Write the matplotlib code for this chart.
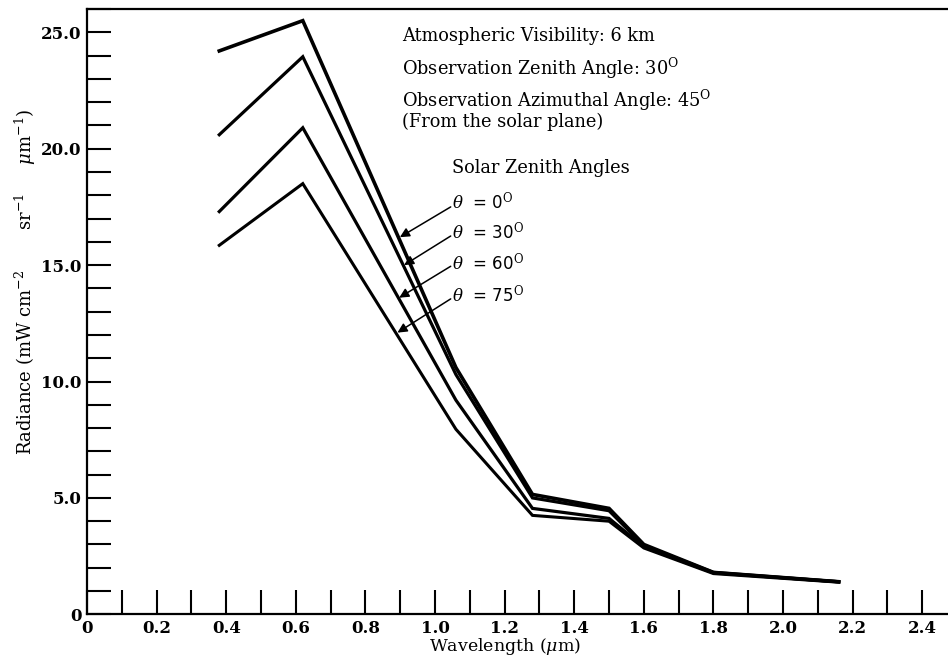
import matplotlib
matplotlib.use("Agg")
import matplotlib.pyplot as plt
from matplotlib.ticker import MultipleLocator, FixedLocator

plt.rcParams['font.family'] = ['DejaVu Serif']
plt.rcParams['mathtext.fontset'] = 'dejavuserif'

# Data
wavelength = [0.38, 0.62, 1.06, 1.28, 1.50, 1.60, 1.80, 2.16]
rad_0 = [24.2, 25.5, 10.6, 5.15, 4.55, 3.00, 1.80, 1.40]
rad_30 = [20.6, 23.95, 10.3, 5.00, 4.45, 2.95, 1.80, 1.40]
rad_60 = [17.3, 20.9, 9.2, 4.55, 4.12, 2.90, 1.78, 1.40]
rad_75 = [15.85, 18.5, 7.95, 4.25, 4.00, 2.85, 1.75, 1.38]
series = [rad_0, rad_30, rad_60, rad_75]
angle_labels = ["0", "30", "60", "75"]
arrow_tips = [(0.899, 16.2), (0.911, 15.0), (0.897, 13.6), (0.892, 12.1)]
arrow_tails = [(1.045, 17.5), (1.045, 16.25), (1.045, 14.95), (1.045, 13.55)]

x_major = [0, 0.2, 0.4, 0.6, 0.8, 1.0, 1.2, 1.4, 1.6, 1.8, 2.0, 2.2, 2.4]
x_labels = ["0", "0.2", "0.4", "0.6", "0.8", "1.0", "1.2", "1.4", "1.6", "1.8", "2.0", "2.2", "2.4"]
y_major = [0, 5, 10, 15, 20, 25]
y_labels = ["0", "5.0", "10.0", "15.0", "20.0", "25.0"]

fig = plt.figure(figsize=(9.48, 6.59), dpi=100)
ax = fig.add_axes([0.0918, 0.0678, 0.9082, 0.9185])

lws = [2.6, 2.3, 2.3, 2.2]
for s, lw in zip(series, lws):
    ax.plot(wavelength, s, color='black', lw=lw, solid_joinstyle='miter')

ax.set_xlim(0, 2.474)
ax.set_ylim(0, 26)

ax.spines['right'].set_visible(False)
for sp in ['left', 'bottom', 'top']:
    ax.spines[sp].set_linewidth(1.6)

ax.xaxis.set_major_locator(FixedLocator(x_major))
ax.set_xticklabels(x_labels)
ax.xaxis.set_minor_locator(MultipleLocator(0.1))
ax.yaxis.set_major_locator(FixedLocator(y_major))
ax.set_yticklabels(y_labels)
ax.yaxis.set_minor_locator(MultipleLocator(1))

ax.tick_params(which='both', direction='in', length=17, width=1.5, top=False, right=False)
ax.tick_params(axis='both', labelsize=12, pad=4)
for lab in ax.get_xticklabels() + ax.get_yticklabels():
    lab.set_fontweight('bold')

ax.set_xlabel(r"Wavelength ($\mu$m)", fontsize=12.5, labelpad=0)
ax.xaxis.set_label_coords(0.485, -0.035)
ax.set_ylabel(r"Radiance (mW cm$^{-2}$       sr$^{-1}$     $\mu$m$^{-1}$)", fontsize=13, labelpad=2)
ax.yaxis.set_label_coords(-0.057, 0.55)

tfs = 12.8
ax.text(0.905, 24.82, "Atmospheric Visibility: 6 km", fontsize=tfs, va='center')
ax.text(0.905, 23.45, r"Observation Zenith Angle: 30$^{\mathrm{O}}$", fontsize=tfs, va='center')
ax.text(0.905, 21.7, "Observation Azimuthal Angle: 45$^{\\mathrm{O}}$\n(From the solar plane)",
        fontsize=tfs, va='center', linespacing=1.0)
ax.text(1.05, 19.15, "Solar Zenith Angles", fontsize=tfs, va='center')

text_y = [17.75, 16.45, 15.1, 13.75]
for lab, ty, tip, tail in zip(angle_labels, text_y, arrow_tips, arrow_tails):
    ax.text(1.05, ty, r"$\theta$  = " + lab + r"$^{\mathrm{O}}$", fontsize=12,
            family='DejaVu Sans', va='center')
    ax.annotate("", xy=tip, xytext=tail,
                arrowprops=dict(arrowstyle='-|>', color='black', lw=1.1,
                                mutation_scale=14, shrinkA=0, shrinkB=0))

fig.savefig("out.png", dpi=100)
